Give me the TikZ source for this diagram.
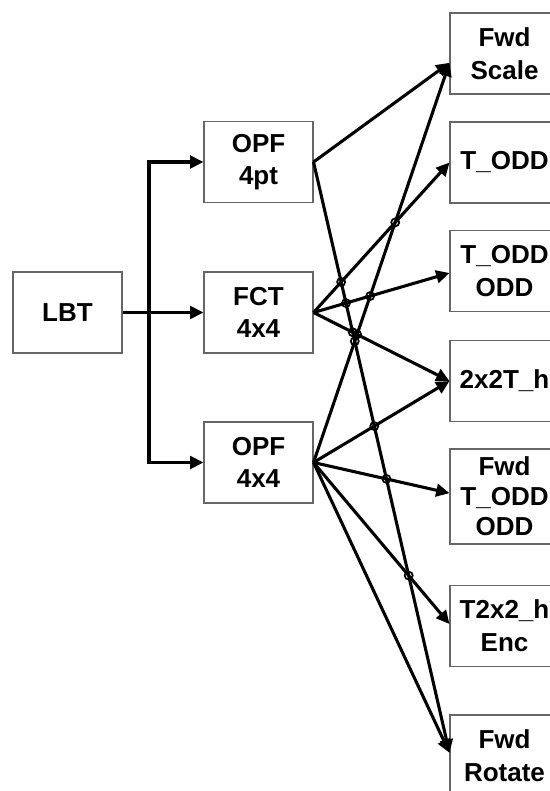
\documentclass[tikz,border=0pt]{standalone}
\usepackage{fontspec}
\setmainfont{Liberation Sans}
\usetikzlibrary{arrows.meta,calc,intersections}
\begin{document}
\begin{tikzpicture}[x=0.75pt,y=-0.75pt,
  box/.style={draw=black!60, line width=0.8pt, minimum width=81.75pt, minimum height=60.75pt,
    inner sep=0pt, align=center, font=\fontsize{19.5}{24.5}\selectfont\bfseries},
  conn/.style={line width=2.3pt, -{Triangle[length=10pt,width=9.5pt]}},
  hop/.style={line width=1.3pt}]
\useasboundingbox (0,0) rectangle (549,791);
% left column
\node[box] (lbt)  at (67.5,312.5) {LBT};
\node[box] (opf1) at (258.5,162) {OPF\\4pt};
\node[box] (fct)  at (258.5,312.5) {FCT\\4x4};
\node[box] (opf2) at (258.5,462.5) {OPF\\4x4};
% right column
\node[box] (fs)   at (504.5,53.5) {Fwd\\Scale};
\node[box] (td)   at (504.5,162.5) {T\_ODD};
\node[box] (tdo)  at (504.5,271) {T\_ODD\\ODD};
\node[box] (h2)   at (504.5,381) {2x2T\_h};
\node[box, minimum height=71.25pt, font=\fontsize{19.5}{22.5}\selectfont\bfseries] (ftd) at (504.5,496.5) {Fwd\\T\_ODD\\ODD};
\node[box] (enc)  at (504.5,626) {T2x2\_h\\Enc};
\node[box] (rot)  at (504.5,755.5) {Fwd\\Rotate};
% endpoints
\coordinate (s1) at (opf1.east);
\coordinate (s2) at (fct.east);
\coordinate (s3) at (opf2.east);
\coordinate (eFs) at ([yshift=-7pt]fs.west);
\coordinate (eTd) at (td.west);
\coordinate (eTdo) at ([yshift=-1.5pt]tdo.west);
\coordinate (eH2) at (h2.west);
\coordinate (eFtd) at ([yshift=2.5pt]ftd.west);
\coordinate (eEnc) at ([yshift=1.5pt]enc.west);
\coordinate (eRot) at ([yshift=2pt]rot.west);
\coordinate (jb) at (149,312.5);
% bus
\draw[conn] (lbt.east) -- (fct.west);
\draw[conn] (jb) |- (opf1.west);
\draw[conn] (jb) |- (opf2.west);
% fan-out connectors
\draw[conn] (s1) -- (eFs);
\draw[conn, name path=B] (s1) -- (eRot);
\draw[conn, name path=C] (s2) -- (eTd);
\draw[conn, name path=D] (s2) -- (eTdo);
\draw[conn, name path=E] (s2) -- (eH2);
\draw[conn, name path=F] (s3) -- (eFs);
\draw[conn, name path=G] (s3) -- (eH2);
\draw[conn, name path=H] (s3) -- (eFtd);
\draw[conn, name path=I] (s3) -- (eEnc);
\draw[conn] (s3) -- (eRot);
% line hops
\path[name intersections={of=C and B, name=x1}]; \draw[hop] (x1-1) circle (3pt);
\path[name intersections={of=C and F, name=x2}]; \draw[hop] (x2-1) circle (3pt);
\path[name intersections={of=D and B, name=x3}]; \draw[hop] (x3-1) circle (3pt);
\path[name intersections={of=D and F, name=x4}]; \draw[hop] (x4-1) circle (3pt);
\path[name intersections={of=E and B, name=x5}]; \draw[hop] (x5-1) circle (3pt);
\path[name intersections={of=E and F, name=x6}]; \draw[hop] (x6-1) circle (3pt);
\path[name intersections={of=B and F, name=x7}]; \draw[hop] (x7-1) circle (3pt);
\path[name intersections={of=G and B, name=x8}]; \draw[hop] (x8-1) circle (3pt);
\path[name intersections={of=H and B, name=x9}]; \draw[hop] (x9-1) circle (3pt);
\path[name intersections={of=I and B, name=x10}]; \draw[hop] (x10-1) circle (3pt);
\end{tikzpicture}
\end{document}
